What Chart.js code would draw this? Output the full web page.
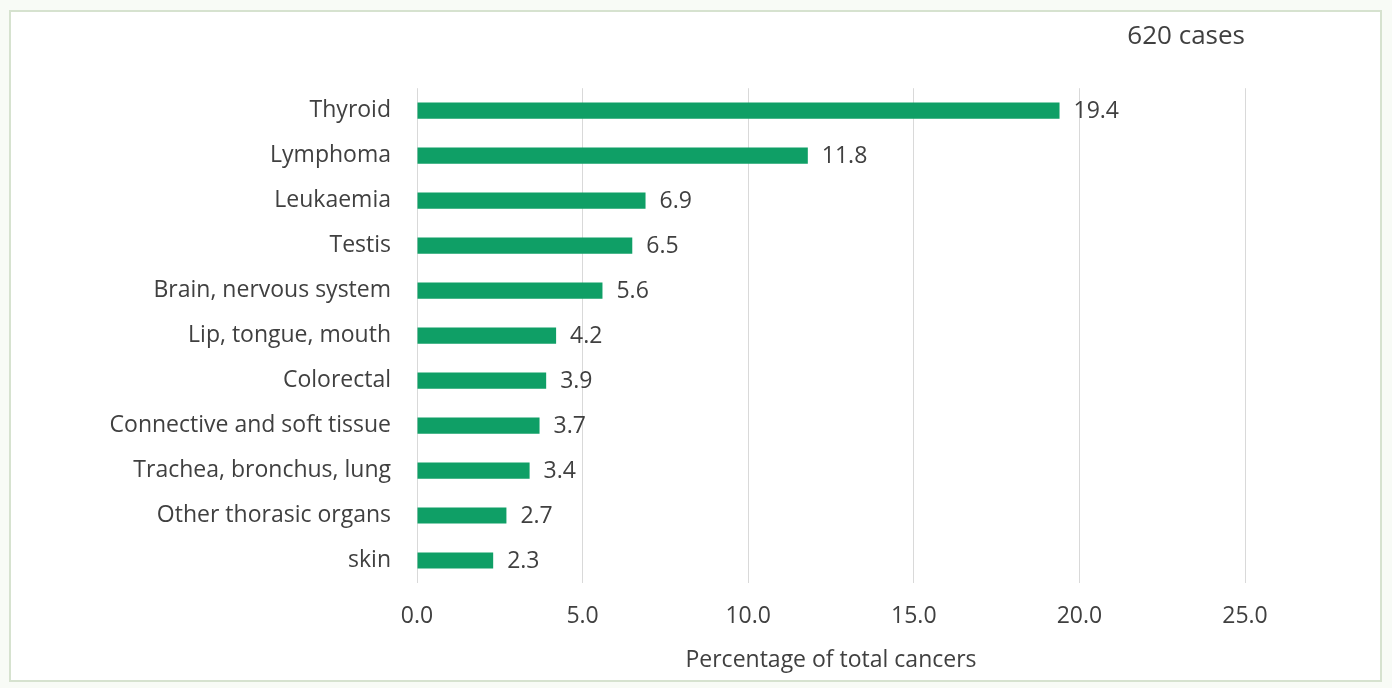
<!DOCTYPE html>
<html>
<head>
<meta charset="utf-8">
<script src="https://cdn.jsdelivr.net/npm/chart.js@4"></script>
<style>
    html, body { margin: 0; padding: 0; background: #f8fbf6; }
    #wrap {
        position: absolute; left: 0; top: 0; width: 1392px; height: 688px;
    }
    #frame {
        position: absolute; left: 9px; top: 10px; width: 1369px; height: 668px;
        border: 2px solid #d6e2cf; background: #ffffff;
    }
    canvas { position: absolute; left: 0; top: 0; }
</style>
</head>
<body>
<div id="wrap">
    <div id="frame"></div>
    <canvas id="barChart" width="1392" height="688"></canvas>
</div>
<script>
// categories and values (percentage of total cancers)
const categories = [
    "Thyroid", "Lymphoma", "Leukaemia", "Testis", "Brain, nervous system",
    "Lip, tongue, mouth", "Colorectal", "Connective and soft tissue",
    "Trachea, bronchus, lung", "Other thorasic organs", "skin"
];
const percentages = [19.4, 11.8, 6.9, 6.5, 5.6, 4.2, 3.9, 3.7, 3.4, 2.7, 2.3];
const xTicks = [0, 5, 10, 15, 20, 25];

const FONT = "'Open Sans', sans-serif";

// value labels at the end of each bar
const valueLabels = {
    id: "valueLabels",
    afterDatasetsDraw(chart) {
        const ctx = chart.ctx;
        const meta = chart.getDatasetMeta(0);
        ctx.save();
        ctx.font = "23px " + FONT;
        ctx.fillStyle = "#404040";
        ctx.textAlign = "left";
        ctx.textBaseline = "middle";
        meta.data.forEach((bar, i) => {
            ctx.fillText(percentages[i].toFixed(1), bar.x + 14, bar.y + 1);
        });
        ctx.restore();
    }
};

new Chart(document.getElementById("barChart").getContext("2d"), {
    type: "bar",
    data: {
        labels: categories,
        datasets: [{
            data: percentages,
            backgroundColor: "#0f9f66",
            barPercentage: 0.36,
            categoryPercentage: 1.0
        }]
    },
    options: {
        indexAxis: "y",
        responsive: false,
        animation: false,
        layout: { padding: { top: 21, right: 147, bottom: 14, left: 0 } },
        plugins: {
            legend: { display: false },
            tooltip: { enabled: false },
            title: {
                display: true,
                text: "620 cases",
                align: "end",
                color: "#404040",
                font: { family: FONT, size: 26, weight: "normal" },
                padding: { top: 0, bottom: 36 }
            }
        },
        scales: {
            x: {
                min: 0,
                max: 25,
                afterBuildTicks(scale) {
                    scale.ticks = xTicks.map(v => ({ value: v }));
                },
                afterFit(scale) { scale.height = 91; },
                ticks: {
                    color: "#404040",
                    padding: 20,
                    font: { family: FONT, size: 23 },
                    callback: v => Number(v).toFixed(1)
                },
                grid: { color: "#d9d9d9", drawTicks: false },
                border: { display: false },
                title: {
                    display: true,
                    text: "Percentage of total cancers",
                    color: "#404040",
                    font: { family: FONT, size: 23 },
                    padding: { top: 0, bottom: 0 }
                }
            },
            y: {
                afterFit(scale) { scale.width = 417; },
                ticks: {
                    color: "#404040",
                    padding: 26,
                    font: { family: FONT, size: 23 }
                },
                grid: { display: false, drawTicks: false },
                border: { display: false }
            }
        }
    },
    plugins: [valueLabels]
});
</script>
</body>
</html>
